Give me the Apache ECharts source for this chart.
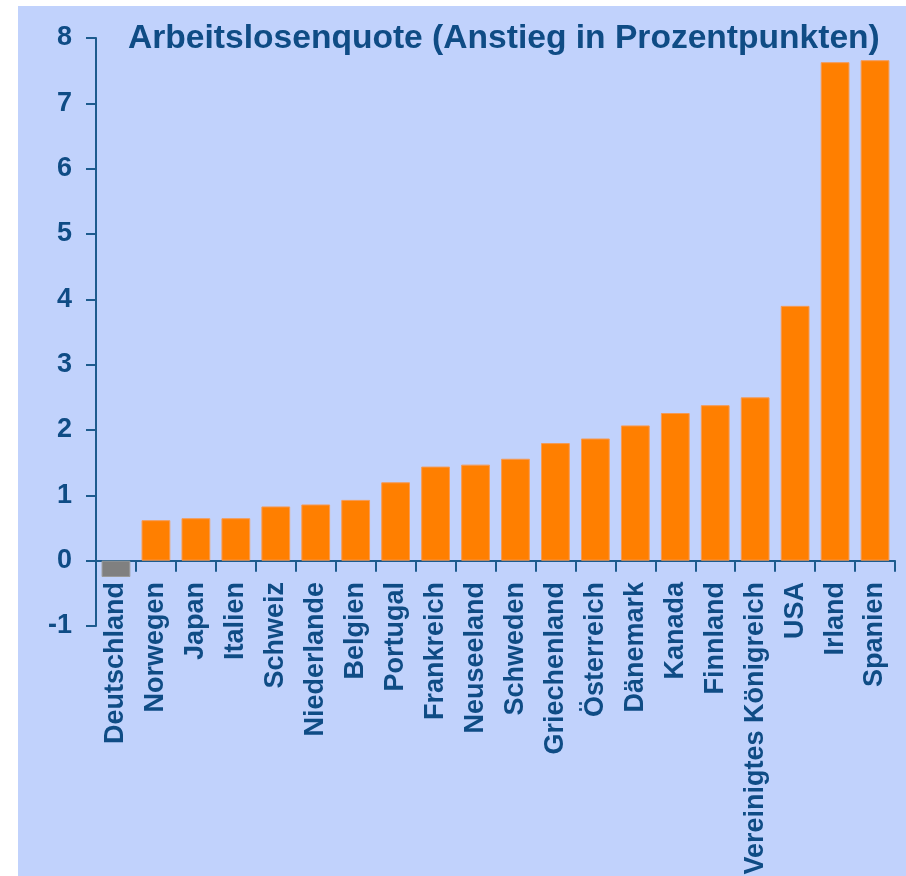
<!DOCTYPE html>
<html>
<head>
<meta charset="utf-8">
<script src="https://cdn.jsdelivr.net/npm/echarts@6/dist/echarts.min.js"></script>
<style>
  html, body { margin: 0; padding: 0; background: #ffffff; }
  .panel {
    position: absolute;
    left: 18px;
    top: 6px;
    width: 888px;
    height: 870px;
    background: #c1d2fc;
  }
  #chart {
    position: absolute;
    left: 0;
    top: 0;
    width: 906px;
    height: 876px;
  }
</style>
</head>
<body>
<div class="panel"></div>
<div id="chart"></div>
<script>
// Länder (sortiert nach Anstieg)
const countries = [
  'Deutschland', 'Norwegen', 'Japan', 'Italien', 'Schweiz', 'Niederlande',
  'Belgien', 'Portugal', 'Frankreich', 'Neuseeland', 'Schweden',
  'Griechenland', 'Österreich', 'Dänemark', 'Kanada', 'Finnland',
  'Vereinigtes Königreich', 'USA', 'Irland', 'Spanien'
]

// Anstieg der Arbeitslosenquote in Prozentpunkten
const increase = [
  -0.25, 0.62, 0.65, 0.65, 0.83, 0.86,
  0.93, 1.2, 1.44, 1.47, 1.56,
  1.8, 1.87, 2.07, 2.26, 2.38,
  2.5, 3.9, 7.63, 7.66
]

// Achsenbereich
const yMin = -1
const yMax = 8
const yStep = 1

const titleText = 'Arbeitslosenquote (Anstieg in Prozentpunkten)'

const axisColor = '#1d5b8e'
const textColor = '#0f4c85'
const barColor = '#ff7f00'
const negColor = '#808080'

const chart = echarts.init(document.getElementById('chart'), null, { renderer: 'canvas' })

const option = {
  backgroundColor: 'transparent',
  animation: false,
  title: {
    text: titleText,
    left: 123,
    top: 17,
    textStyle: {
      color: textColor,
      fontSize: 33.6,
      fontWeight: 'bold',
      fontFamily: "'Liberation Sans', Arial, sans-serif"
    }
  },
  grid: {
    left: 96,
    right: 11,
    top: 38,
    bottom: 250,
    containLabel: false,
    outerBoundsMode: 'none'
  },
  xAxis: {
    type: 'category',
    data: countries,
    axisLine: {
      onZero: true,
      lineStyle: { color: axisColor, width: 2 }
    },
    axisTick: {
      show: true,
      length: 11,
      lineStyle: { color: axisColor, width: 2 }
    },
    axisLabel: {
      interval: 0,
      rotate: 90,
      // Beschriftung direkt unter der Nulllinie
      margin: -44,
      color: textColor,
      fontSize: 27,
      fontWeight: 'bold',
      fontFamily: "'Liberation Sans', Arial, sans-serif"
    }
  },
  yAxis: {
    type: 'value',
    min: yMin,
    max: yMax,
    interval: yStep,
    axisLine: {
      show: true,
      lineStyle: { color: axisColor, width: 2 }
    },
    axisTick: {
      show: true,
      length: 10,
      lineStyle: { color: axisColor, width: 2 }
    },
    splitLine: { show: false },
    axisLabel: {
      margin: 24,
      color: textColor,
      fontSize: 27,
      fontWeight: 'bold',
      fontFamily: "'Liberation Sans', Arial, sans-serif"
    }
  },
  series: [
    {
      type: 'bar',
      barCategoryGap: '28%',
      data: increase.map(v => ({
        value: v,
        itemStyle: {
          color: v < 0 ? negColor : barColor,
          borderColor: v < 0 ? '#9a9a9a' : '#f59a55',
          borderWidth: 1
        }
      }))
    }
  ]
}

chart.setOption(option)
</script>
</body>
</html>
